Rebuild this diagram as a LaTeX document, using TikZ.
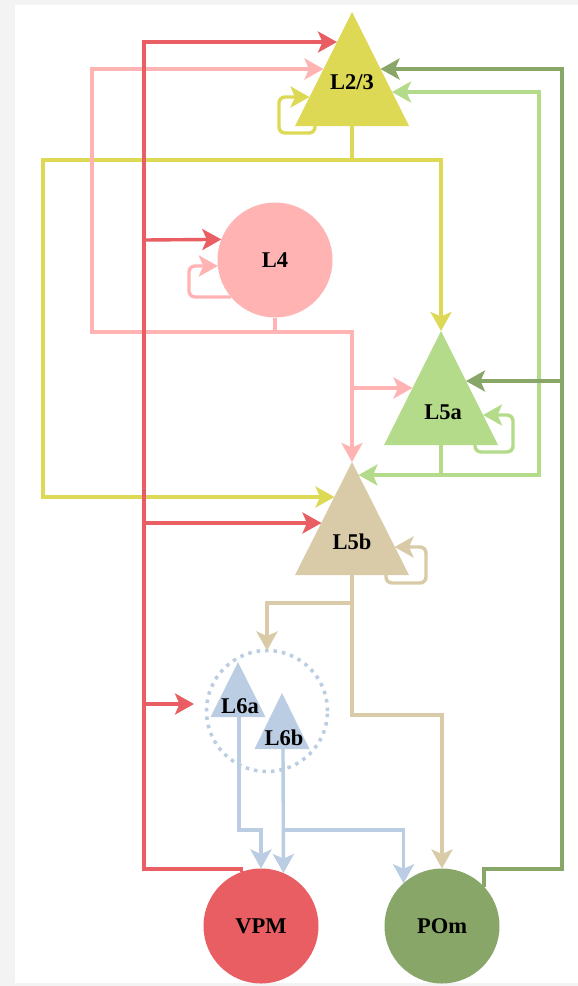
\documentclass[tikz,border=0pt]{standalone}
\usepackage{fontspec}
\setmainfont{Liberation Serif}
\usetikzlibrary{arrows.meta}
\definecolor{cred}{HTML}{E85E63}
\definecolor{cpink}{HTML}{FFB3B3}
\definecolor{cyel}{HTML}{DDD955}
\definecolor{clg}{HTML}{B3DB8A}
\definecolor{cdg}{HTML}{88A668}
\definecolor{ctan}{HTML}{D9CBA8}
\definecolor{cblue}{HTML}{BBCDE3}
\definecolor{cbg}{HTML}{F3F3F3}
\begin{document}
\begin{tikzpicture}[x=1pt,y=-1pt,
  conn/.style={line width=3.4pt,-{Stealth[length=19pt,width=21pt,inset=4.5pt]}},
  plain/.style={line width=3.4pt},
  loopc/.style={conn,rounded corners=6pt},
  lbl/.style={font=\fontsize{22.5}{25}\selectfont\bfseries,inner sep=0pt},
  cell/.style={circle,minimum size=115pt,inner sep=0pt,outer sep=0pt}]
\fill[cbg] (0,0) rectangle (578,986);
\fill[white] (15,5) rectangle (578,983);
\useasboundingbox (0,0) rectangle (578,986);

% triangles
\fill[cyel] (352,12) -- (409,126) -- (295,126) -- cycle;
\node[lbl] (L23) at (352,82) {L2/3};
\fill[clg] (441,331) -- (498,445) -- (384,445) -- cycle;
\node[lbl] (L5a) at (443,412) {L5a};
\fill[ctan] (352,462) -- (409,575) -- (295,575) -- cycle;
\node[lbl] (L5b) at (352,542) {L5b};
\fill[cblue] (238,662) -- (265.5,717) -- (210.5,717) -- cycle;
\node[lbl] (L6a) at (240,706) {L6a};
\fill[cblue] (282,693) -- (309.5,749) -- (254.5,749) -- cycle;
\node[lbl] (L6b) at (284,738) {L6b};

% round cells
\node[cell,fill=cpink] (L4) at (275,260) {};
\node[lbl] at (L4) {L4};
\node[cell,fill=cred] (VPM) at (261,926) {};
\node[lbl] at (VPM) {VPM};
\node[cell,fill=cdg] (POm) at (442,926) {};
\node[lbl] at (POm) {POm};
\node[circle,minimum size=121pt,inner sep=0pt,outer sep=0pt,draw=cblue,line width=3.5pt,dash pattern=on 3.5pt off 5pt] (L6grp) at (267,711) {};

% named connection points on triangles
\coordinate (L23base) at (352,126);
\coordinate (L23red) at (337,42);
\coordinate (L23pink) at (323.5,69);
\coordinate (L23self) at (309.5,97);
\coordinate (L23dg) at (380.5,69);
\coordinate (L23lg) at (392,92);
\coordinate (L5aapex) at (441,331);
\coordinate (L5abase) at (441,445);
\coordinate (L5apink) at (412.5,388);
\coordinate (L5adg) at (466,381);
\coordinate (L5aself) at (483,415);
\coordinate (L5bapex) at (352,462);
\coordinate (L5bbase) at (352,575);
\coordinate (L5blg) at (358.5,475);
\coordinate (L5byel) at (334.5,497);
\coordinate (L5bred) at (321.5,523);
\coordinate (L5bself) at (394.5,547);
\coordinate (L6abase) at (239,717);
\coordinate (L6bbase) at (283,749);
\coordinate (L6in) at (194,704);

% yellow: L2/3 outputs
\draw[plain,cyel] (L23base) -- (352,160);
\draw[conn,cyel] (352,160) -| (L5aapex);
\draw[conn,cyel] (352,160) -| (43,497) -- (L5byel);
\draw[loopc,cyel] (315,126) |- (279,133) |- (L23self);

% pink: L4 outputs
\draw[plain,cpink] (L4.south) -- (275,332);
\draw[conn,cpink] (275,332) -| (92,69) -- (L23pink);
\draw[conn,cpink] (275,332) -| (L5bapex);
\draw[conn,cpink] (352,388) -- (L5apink);
\draw[loopc,cpink] (L4.220.7) -| (189,266) -- (L4.186);

% light green: L5a outputs
\draw[plain,clg] (L5abase) -- (441,475);
\draw[conn,clg] (441,475) -| (539,92) -- (L23lg);
\draw[conn,clg] (441,475) -- (L5blg);
\draw[loopc,clg] (475,445) |- (513,452) |- (L5aself);

% tan: L5b outputs
\draw[plain,ctan] (L5bbase) -- (352,603);
\draw[conn,ctan] (352,603) -| (L6grp.north);
\draw[conn,ctan] (352,603) |- (442,715) -- (POm.north);
\draw[loopc,ctan] (386,575) |- (426,583) |- (L5bself);

% blue: L6 outputs
\draw[conn,cblue] (L6abase) |- (261,830) -- (VPM.north);
\draw[conn,cblue] (L6bbase) -- (VPM.67.5);
\draw[conn,cblue] (283,830) -| (POm.132);

% red: VPM outputs
\draw[conn,cred] (VPM.110) |- (144,869) |- (L23red);
\draw[conn,cred] (144,240) -- (L4.159.6);
\draw[conn,cred] (144,523) -- (L5bred);
\draw[conn,cred] (144,704) -- (L6in);

% dark green: POm outputs
\draw[conn,cdg] (POm.43) |- (562,869) |- (L23dg);
\draw[conn,cdg] (562,381) -- (L5adg);
\end{tikzpicture}
\end{document}
